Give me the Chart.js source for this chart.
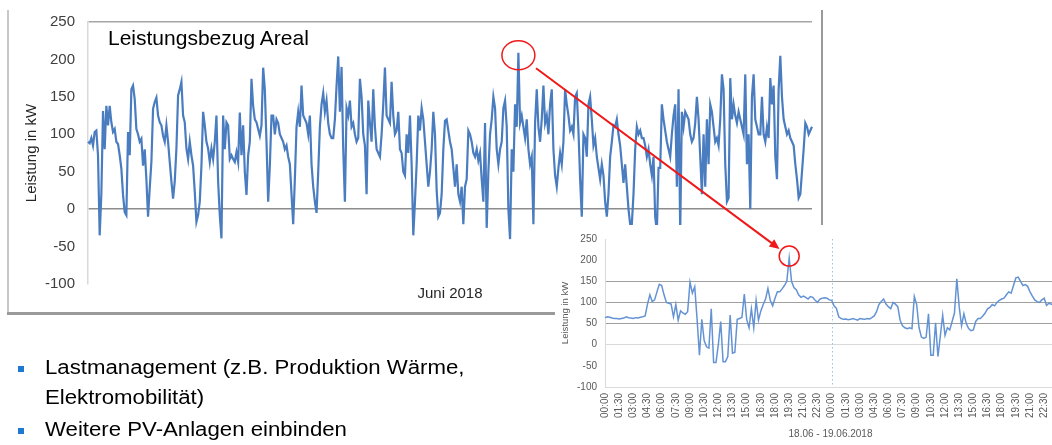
<!DOCTYPE html>
<html><head><meta charset="utf-8">
<script src="https://cdn.jsdelivr.net/npm/chart.js@4/dist/chart.umd.min.js"></script>
<style>
html,body{margin:0;padding:0;width:1052px;height:445px;overflow:hidden;background:#fff;font-family:"Liberation Sans",Arial,sans-serif;}
#main{position:absolute;left:0;top:0;}
#inset{position:absolute;left:555px;top:225px;background:#fff;}
#overlay{position:absolute;left:0;top:0;pointer-events:none;}
.frame{position:absolute;}
.t{position:absolute;white-space:nowrap;color:#000;}
.s{transform:scaleX(1.11);transform-origin:0 0;}
.bul{position:absolute;width:6px;height:6px;background:#1f78d1;}
</style></head><body>
<canvas id="main" width="830" height="320"></canvas>
<div class="frame" style="left:7px;top:10px;width:2px;height:304px;background:#c8c8c8"></div>
<div class="frame" style="left:7px;top:312px;width:548px;height:3px;background:#9a9a9a"></div>
<div class="frame" style="left:821px;top:10px;width:2px;height:215px;background:#9a9a9a"></div>
<div class="t" style="left:108px;top:27px;font-size:21px;line-height:21px">Leistungsbezug Areal</div>
<canvas id="inset" width="519" height="220"></canvas>
<canvas id="overlay" width="1052" height="445"></canvas>
<div class="bul" style="left:18px;top:366px"></div>
<div class="bul" style="left:18px;top:428px"></div>
<div class="t s" style="left:45px;top:357px;font-size:20px;line-height:20px">Lastmanagement (z.B. Produktion Wärme,</div>
<div class="t s" style="left:45px;top:387px;font-size:20px;line-height:20px">Elektromobilität)</div>
<div class="t s" style="left:45px;top:419px;font-size:20px;line-height:20px">Weitere PV-Anlagen einbinden</div>
<script>
// ---- Main chart: Leistungsbezug Areal, June 2018 (kW) ----
const loadPart1 = [90,88,95,85,103,105,72,-35,20,131, 80,138,112,138,116,103,107,90,87,72, 54,19,-4,-8,103,72,160,165,147,107, 100,90,94,58,80,40,-10,28,63,134, 143,149,125,116,112,98,90,112,90,63, 37,14,37,81,152,160,170,125,116,81, 67,90,72,58,23,-17,-8,10,58,130, 112,90,81,63,81,67,90,125,37,-8, -39,125,80,116,112,67,72,67,63,76, 63,129,72,112,50,19,72,90,174,138, 120,116,107,98,112,189,160,90,10,58, 125,125];
const loadPart2 = [100,120,115,100,95,90,80,85,70,60, 20,-20,40,110,130,110,165,125,120,115, 100,125,60,30,10,-5,50,110,140,155, 130,145,115,100,95,95,120,165,204,130, 190,80,10,135,125,145,110,115,100,90, 95,174,150,100,85,20,145,115,90,160, 110,80,75,70,100,140,189,125,120,115, 170,125,100,105,130,80,75,50,45,100, 75,125,60,-35,10,60,125,105,135,120, 90,60,30,50,80,130,100,25,-10,-5, 20,80,118,120,105,90,80,55,30];
const loadPart3 = [60,20,10,30,-20,30,40,105,100,90, 75,70,80,65,75,40,10,115,-25,50, 100,120,150,135,80,60,80,90,135,145, 110,0,-40,80,50,140,110,209,115,125, 110,95,120,80,60,70,-20,115,160,110, 90,120,165,115,125,100,140,160,80,45, 30,55,75,60,90,160,140,125,105,110, 100,150,155,105,40,-10,100,95,70,140, 150,120,85,95,70,55,40,60,45,10, -10,20,70,90,112,110,120,100,85,60, 35,60,30,0,-20,-20,20,80,110,100, 105,95];
const loadPart4 = [95,85,70,80,60,45,70,-10,-30,55, 55,140,120,105,90,80,70,100,125,140, 30,160,-30,130,110,130,125,120,100,90, 95,115,150,120,70,20,100,30,120,60, 140,130,110,90,95,85,120,180,160,60, 10,15,175,120,140,125,115,130,120,110, 100,180,60,100,0,150,180,120,110,100, 100,150,100,90,110,95,175,140,165,70, 40,160,205,150,120,110,100,105,95,90, 85,60,40,15,20,50,80,115,110,100, 105,110];
const mainValues = loadPart1.concat(loadPart2, loadPart3, loadPart4);
const mainLabels = mainValues.map((_, i) => i);
const yTicksMain = [-100, -50, 0, 50, 100, 150, 200, 250];

// ---- Inset: 18.06 - 19.06.2018, 15-min values (kW) ----
const day18 = [64,66,65,63,62,62,61,62,63,66, 64,63,62,64,63,65,66,68,96,118, 102,106,125,143,140,118,100,98,96,66, 95,58,80,75,72,78,148,122,137,60, -25,60,10,-5,-8,85,-42,-42,0,55, -40,-40,-28,70,-20,-18,60,62,65,120, 60,40,85,40,105,58,80,95,108,133, 105,92,110,125,125,132,140,150,205,150, 135,130,118,112,115,112,108,114,112,105, 100,108,110,111,110,106];
const day19 = [105,92,86,66,62,60,61,59,60,62, 60,58,62,61,60,62,61,64,68,78, 95,102,108,96,90,85,100,96,90,58, 45,40,38,40,38,114,95,40,18,15, 18,73,-25,-25,52,-28,20,70,22,40, 35,55,75,156,90,45,73,50,38,33, 35,55,62,62,68,75,85,88,95,92, 100,105,108,110,118,125,122,140,158,160, 150,140,142,138,125,115,106,102,100,106, 110,93,98,96,97,95];
const insetValues = day18.concat(day19);
const insetLabels = [];
for (let d = 0; d < 2; d++) for (let h = 0; h < 24; h++) for (let m = 0; m < 60; m += 15)
  insetLabels.push(String(h).padStart(2,'0') + ':' + String(m).padStart(2,'0'));
const insetLabelEvery = 6;
const dayBreakIndex = 96;

Chart.defaults.font.family = '"Liberation Sans", Arial, sans-serif';

const mainChart = new Chart(document.getElementById('main'), {
  type: 'line',
  data: { labels: mainLabels, datasets: [{ data: mainValues, borderColor: '#4a7cc0', borderWidth: 2.2, pointRadius: 0, tension: 0, fill: false }] },
  options: {
    responsive: false, animation: false, events: [],
    layout: { padding: { left: 18, right: 18, top: 21, bottom: 13 } },
    plugins: { legend: { display: false }, tooltip: { enabled: false } },
    scales: {
      x: { type: 'category', offset: false, grid: { display: false, drawTicks: false }, border: { display: false },
           ticks: { display: false },
           title: { display: true, text: 'Juni 2018', color: '#262626', font: { size: 15 }, padding: { top: 1, bottom: 4 } },
           afterFit: s => { s.height = 23; } },
      y: { min: -100, max: 250,
           afterBuildTicks: s => { s.ticks = yTicksMain.map(v => ({ value: v })); },
           ticks: { color: '#404040', font: { size: 15 }, padding: 13 },
           grid: { drawTicks: false, lineWidth: 1.5, color: ctx => ctx.tick.value === 0 ? '#8c8c8c' : (ctx.tick.value === 250 ? '#a6a6a6' : 'rgba(0,0,0,0)') },
           border: { display: true, color: '#d9d9d9', width: 1.5 },
           title: { display: true, text: 'Leistung in kW', color: '#262626', font: { size: 15 }, padding: { top: 5, bottom: 0 } },
           afterFit: s => { s.width = 70; } }
    }
  }
});

const dayLinePlugin = {
  id: 'dayLine',
  beforeDatasetsDraw(chart) {
    const { ctx, chartArea, scales } = chart;
    const x = Math.round(scales.x.getPixelForValue(dayBreakIndex)) + 0.5;
    ctx.save();
    ctx.strokeStyle = '#9dc3e6'; ctx.lineWidth = 1; ctx.setLineDash([1.5, 2.5]);
    ctx.beginPath(); ctx.moveTo(x, chartArea.top); ctx.lineTo(x, chartArea.bottom); ctx.stroke();
    ctx.restore();
  }
};

const insetChart = new Chart(document.getElementById('inset'), {
  type: 'line',
  data: { labels: insetLabels, datasets: [{ data: insetValues, borderColor: '#6393d4', borderWidth: 1.5, pointRadius: 0, tension: 0, fill: false }] },
  options: {
    responsive: false, animation: false, events: [],
    layout: { padding: { left: 0, right: 10, top: 8, bottom: 0 } },
    plugins: { legend: { display: false }, tooltip: { enabled: false } },
    scales: {
      x: { offset: false, grid: { display: false, drawTicks: false }, border: { display: false },
           ticks: { autoSkip: false, maxRotation: 90, minRotation: 90, padding: 6, color: '#595959', font: { size: 10 },
                    callback: (v, i) => (i % insetLabelEvery === 0 ? insetLabels[i] : '') },
           title: { display: true, text: '18.06 - 19.06.2018', color: '#595959', font: { size: 10 }, padding: { top: 0, bottom: 5 } },
           afterFit: s => { s.height = 58; } },
      y: { min: -100, max: 250,
           afterBuildTicks: s => { s.ticks = yTicksMain.map(v => ({ value: v })); },
           ticks: { color: '#595959', font: { size: 10 }, padding: 8 },
           grid: { drawTicks: false, color: ctx => { const v = ctx.tick.value; if (v === 150 || v === 100 || v === 50) return '#a0a0a0'; if (v === 0 || v === -100) return '#d9d9d9'; return 'rgba(0,0,0,0)'; } },
           border: { display: true, color: '#d9d9d9' },
           title: { display: true, text: 'Leistung in kW', color: '#595959', font: { size: 9.5 }, padding: { top: 5, bottom: 0 } },
           afterFit: s => { s.width = 50; } }
    }
  },
  plugins: [dayLinePlugin]
});

// ---- Annotation overlay: circles on the peaks and arrow ----
(function drawOverlay() {
  const c = document.getElementById('overlay').getContext('2d');
  const mi = mainValues.indexOf(Math.max(...mainValues));
  const mx = mainChart.scales.x.getPixelForValue(mi);
  const my = mainChart.scales.y.getPixelForValue(mainValues[mi]) + 2.5;
  const ii = insetValues.indexOf(Math.max(...insetValues));
  const ix = 555 + insetChart.scales.x.getPixelForValue(ii);
  const iy = 225 + insetChart.scales.y.getPixelForValue(insetValues[ii]) - 2;
  c.strokeStyle = '#f01818'; c.fillStyle = '#f01818';
  c.lineWidth = 1.5;
  c.beginPath(); c.ellipse(mx, my, 16.5, 14.5, 0, 0, Math.PI * 2); c.stroke();
  c.beginPath(); c.ellipse(ix, iy, 10, 10, 0, 0, Math.PI * 2); c.stroke();
  const dx = ix - mx, dy = iy - my, len = Math.hypot(dx, dy), ux = dx / len, uy = dy / len;
  const sx = mx + ux * 22, sy = my + uy * 22;
  const ex = ix - ux * 12, ey = iy - uy * 12;
  const hl = 10, hw = 4.5;
  c.lineWidth = 2;
  c.beginPath(); c.moveTo(sx, sy); c.lineTo(ex - ux * hl * 0.8, ey - uy * hl * 0.8); c.stroke();
  c.beginPath();
  c.moveTo(ex, ey);
  c.lineTo(ex - ux * hl - uy * hw, ey - uy * hl + ux * hw);
  c.lineTo(ex - ux * hl + uy * hw, ey - uy * hl - ux * hw);
  c.closePath(); c.fill();
})();
</script>
</body></html>
